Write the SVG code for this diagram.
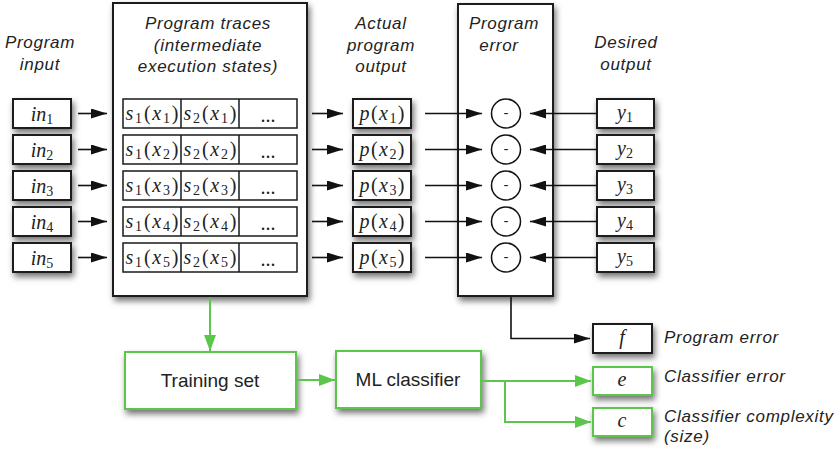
<svg xmlns="http://www.w3.org/2000/svg" width="836" height="454" viewBox="0 0 836 454">
<style>
.lbl{font-family:"Liberation Sans",Arial,sans-serif;font-style:italic;font-size:17px;letter-spacing:0.7px;fill:#222}
.big{font-family:"Liberation Sans",Arial,sans-serif;font-size:19px;fill:#222}
.m{font-family:"Liberation Serif","Times New Roman",serif;font-size:20px;fill:#222;text-anchor:middle}
.v{font-style:italic}
.box{fill:#fff;stroke:#1a1a1a;stroke-width:2}
.cell{fill:#fff;stroke:#1a1a1a;stroke-width:1.5}
.gbox{fill:#fff;stroke:#5cc64c;stroke-width:2}
.ln{fill:none;stroke:#111;stroke-width:1.6}
.gln{fill:none;stroke:#5cc64c;stroke-width:2}
.c{text-anchor:middle}
</style>
<defs>
<filter id="sh" x="-30%" y="-30%" width="170%" height="180%">
<feDropShadow dx="2" dy="4" stdDeviation="3" flood-color="#000" flood-opacity="0.55"/>
</filter>
<marker id="ah" viewBox="0 0 16 10" refX="16" refY="5" markerWidth="16" markerHeight="10" markerUnits="userSpaceOnUse" orient="auto">
<path d="M0,0 L16,5 L0,10 z" fill="#111"/>
</marker>
<marker id="gah" viewBox="0 0 16 12" refX="16" refY="6" markerWidth="16" markerHeight="12" markerUnits="userSpaceOnUse" orient="auto">
<path d="M0,0 L16,6 L0,12 z" fill="#5cc64c"/>
</marker>
</defs>

<g id="inputs">
<rect class="box" filter="url(#sh)" x="13" y="99" width="58" height="29"/>
<rect class="box" filter="url(#sh)" x="13" y="135" width="58" height="29"/>
<rect class="box" filter="url(#sh)" x="13" y="171" width="58" height="29"/>
<rect class="box" filter="url(#sh)" x="13" y="207" width="58" height="29"/>
<rect class="box" filter="url(#sh)" x="13" y="243" width="58" height="29"/>
<text class="m" x="42" y="120.5"><tspan class="v">in</tspan><tspan font-size="14" dy="3">1</tspan></text>
<text class="m" x="42" y="156.5"><tspan class="v">in</tspan><tspan font-size="14" dy="3">2</tspan></text>
<text class="m" x="42" y="192.5"><tspan class="v">in</tspan><tspan font-size="14" dy="3">3</tspan></text>
<text class="m" x="42" y="228.5"><tspan class="v">in</tspan><tspan font-size="14" dy="3">4</tspan></text>
<text class="m" x="42" y="264.5"><tspan class="v">in</tspan><tspan font-size="14" dy="3">5</tspan></text>
</g>

<g id="traces">
<rect class="box" filter="url(#sh)" x="113" y="3" width="194" height="293"/>
<g id="trace-rows">
<rect class="cell" x="123" y="99" width="174" height="29"/>
<rect class="cell" x="123" y="135" width="174" height="29"/>
<rect class="cell" x="123" y="171" width="174" height="29"/>
<rect class="cell" x="123" y="207" width="174" height="29"/>
<rect class="cell" x="123" y="243" width="174" height="29"/>
<path class="cell" d="M181,99 V128 M239,99 V128 M181,135 V164 M239,135 V164 M181,171 V200 M239,171 V200 M181,207 V236 M239,207 V236 M181,243 V272 M239,243 V272"/>
</g>
<text class="m" x="152" y="120" textLength="53"><tspan class="v">s</tspan><tspan font-size="14" dy="3">1</tspan><tspan dy="-3">(</tspan><tspan class="v">x</tspan><tspan font-size="14" dy="3">1</tspan><tspan dy="-3">)</tspan></text>
<text class="m" x="210" y="120" textLength="53"><tspan class="v">s</tspan><tspan font-size="14" dy="3">2</tspan><tspan dy="-3">(</tspan><tspan class="v">x</tspan><tspan font-size="14" dy="3">1</tspan><tspan dy="-3">)</tspan></text>
<text class="m" x="152" y="156" textLength="53"><tspan class="v">s</tspan><tspan font-size="14" dy="3">1</tspan><tspan dy="-3">(</tspan><tspan class="v">x</tspan><tspan font-size="14" dy="3">2</tspan><tspan dy="-3">)</tspan></text>
<text class="m" x="210" y="156" textLength="53"><tspan class="v">s</tspan><tspan font-size="14" dy="3">2</tspan><tspan dy="-3">(</tspan><tspan class="v">x</tspan><tspan font-size="14" dy="3">2</tspan><tspan dy="-3">)</tspan></text>
<text class="m" x="152" y="192" textLength="53"><tspan class="v">s</tspan><tspan font-size="14" dy="3">1</tspan><tspan dy="-3">(</tspan><tspan class="v">x</tspan><tspan font-size="14" dy="3">3</tspan><tspan dy="-3">)</tspan></text>
<text class="m" x="210" y="192" textLength="53"><tspan class="v">s</tspan><tspan font-size="14" dy="3">2</tspan><tspan dy="-3">(</tspan><tspan class="v">x</tspan><tspan font-size="14" dy="3">3</tspan><tspan dy="-3">)</tspan></text>
<text class="m" x="152" y="228" textLength="53"><tspan class="v">s</tspan><tspan font-size="14" dy="3">1</tspan><tspan dy="-3">(</tspan><tspan class="v">x</tspan><tspan font-size="14" dy="3">4</tspan><tspan dy="-3">)</tspan></text>
<text class="m" x="210" y="228" textLength="53"><tspan class="v">s</tspan><tspan font-size="14" dy="3">2</tspan><tspan dy="-3">(</tspan><tspan class="v">x</tspan><tspan font-size="14" dy="3">4</tspan><tspan dy="-3">)</tspan></text>
<text class="m" x="152" y="264" textLength="53"><tspan class="v">s</tspan><tspan font-size="14" dy="3">1</tspan><tspan dy="-3">(</tspan><tspan class="v">x</tspan><tspan font-size="14" dy="3">5</tspan><tspan dy="-3">)</tspan></text>
<text class="m" x="210" y="264" textLength="53"><tspan class="v">s</tspan><tspan font-size="14" dy="3">2</tspan><tspan dy="-3">(</tspan><tspan class="v">x</tspan><tspan font-size="14" dy="3">5</tspan><tspan dy="-3">)</tspan></text>
<text class="m" x="268" y="122">...</text>
<text class="m" x="268" y="158">...</text>
<text class="m" x="268" y="194">...</text>
<text class="m" x="268" y="230">...</text>
<text class="m" x="268" y="266">...</text>
</g>

<g id="outputs">
<rect class="box" filter="url(#sh)" x="353" y="99" width="58" height="29"/>
<rect class="box" filter="url(#sh)" x="353" y="135" width="58" height="29"/>
<rect class="box" filter="url(#sh)" x="353" y="171" width="58" height="29"/>
<rect class="box" filter="url(#sh)" x="353" y="207" width="58" height="29"/>
<rect class="box" filter="url(#sh)" x="353" y="243" width="58" height="29"/>
<text class="m" x="382" y="120" textLength="45"><tspan class="v">p</tspan>(<tspan class="v">x</tspan><tspan font-size="14" dy="3">1</tspan><tspan dy="-3">)</tspan></text>
<text class="m" x="382" y="156" textLength="45"><tspan class="v">p</tspan>(<tspan class="v">x</tspan><tspan font-size="14" dy="3">2</tspan><tspan dy="-3">)</tspan></text>
<text class="m" x="382" y="192" textLength="45"><tspan class="v">p</tspan>(<tspan class="v">x</tspan><tspan font-size="14" dy="3">3</tspan><tspan dy="-3">)</tspan></text>
<text class="m" x="382" y="228" textLength="45"><tspan class="v">p</tspan>(<tspan class="v">x</tspan><tspan font-size="14" dy="3">4</tspan><tspan dy="-3">)</tspan></text>
<text class="m" x="382" y="264" textLength="45"><tspan class="v">p</tspan>(<tspan class="v">x</tspan><tspan font-size="14" dy="3">5</tspan><tspan dy="-3">)</tspan></text>
</g>

<g id="program-error">
<rect class="box" filter="url(#sh)" x="458" y="4" width="95" height="292"/>
<g fill="#fff" stroke="#111" stroke-width="1.5">
<circle cx="506" cy="113.5" r="14.5"/>
<circle cx="506" cy="149.5" r="14.5"/>
<circle cx="506" cy="185.5" r="14.5"/>
<circle cx="506" cy="221.5" r="14.5"/>
<circle cx="506" cy="257.5" r="14.5"/>
</g>
<g font-family="Liberation Sans,Arial,sans-serif" font-size="15" fill="#222" text-anchor="middle">
<text x="506" y="118">-</text>
<text x="506" y="154">-</text>
<text x="506" y="190">-</text>
<text x="506" y="226">-</text>
<text x="506" y="262">-</text>
</g>
</g>

<g id="desired">
<rect class="box" filter="url(#sh)" x="597" y="99" width="57" height="29"/>
<rect class="box" filter="url(#sh)" x="597" y="135" width="57" height="29"/>
<rect class="box" filter="url(#sh)" x="597" y="171" width="57" height="29"/>
<rect class="box" filter="url(#sh)" x="597" y="207" width="57" height="29"/>
<rect class="box" filter="url(#sh)" x="597" y="243" width="57" height="29"/>
<text class="m" x="625" y="119"><tspan class="v">y</tspan><tspan font-size="14" dy="3">1</tspan></text>
<text class="m" x="625" y="155"><tspan class="v">y</tspan><tspan font-size="14" dy="3">2</tspan></text>
<text class="m" x="625" y="191"><tspan class="v">y</tspan><tspan font-size="14" dy="3">3</tspan></text>
<text class="m" x="625" y="227"><tspan class="v">y</tspan><tspan font-size="14" dy="3">4</tspan></text>
<text class="m" x="625" y="263"><tspan class="v">y</tspan><tspan font-size="14" dy="3">5</tspan></text>
</g>

<g id="headers">
<text class="lbl c" x="40" y="48">Program</text>
<text class="lbl c" x="40" y="70">input</text>
<text class="lbl c" x="208" y="29">Program traces</text>
<text class="lbl c" x="208" y="50.5">(intermediate</text>
<text class="lbl c" x="208" y="72">execution states)</text>
<text class="lbl c" x="381" y="29">Actual</text>
<text class="lbl c" x="381" y="50.5">program</text>
<text class="lbl c" x="381" y="72">output</text>
<text class="lbl c" x="504" y="29">Program</text>
<text class="lbl c" x="499" y="50.5">error</text>
<text class="lbl c" x="626" y="48">Desired</text>
<text class="lbl c" x="626" y="69.5">output</text>
</g>

<g id="training-set">
<rect class="gbox" filter="url(#sh)" x="125" y="352" width="171" height="57"/>
<text class="big c" x="210" y="387">Training set</text>
</g>
<g id="ml-classifier">
<rect class="gbox" filter="url(#sh)" x="336" y="351" width="145" height="57"/>
<text class="big c" x="408" y="386">ML classifier</text>
</g>

<g id="f-node">
<rect class="box" filter="url(#sh)" x="593" y="324" width="59" height="29"/>
<text class="m v" x="622" y="344">f</text>
<text class="lbl" x="664" y="343">Program error</text>
</g>
<g id="e-node">
<rect class="gbox" filter="url(#sh)" x="593" y="367" width="59" height="28"/>
<text class="m v" x="622" y="386">e</text>
<text class="lbl" x="664" y="382">Classifier error</text>
</g>
<g id="c-node">
<rect class="gbox" filter="url(#sh)" x="593" y="408" width="59" height="28"/>
<text class="m v" x="622" y="427">c</text>
<text class="lbl" x="664" y="421.5">Classifier complexity</text>
<text class="lbl" x="664" y="442">(size)</text>
</g>

<g id="connectors">
<line class="ln" x1="78" y1="113.5" x2="107" y2="113.5" marker-end="url(#ah)"/>
<line class="ln" x1="78" y1="149.5" x2="107" y2="149.5" marker-end="url(#ah)"/>
<line class="ln" x1="78" y1="185.5" x2="107" y2="185.5" marker-end="url(#ah)"/>
<line class="ln" x1="78" y1="221.5" x2="107" y2="221.5" marker-end="url(#ah)"/>
<line class="ln" x1="78" y1="257.5" x2="107" y2="257.5" marker-end="url(#ah)"/>
<line class="ln" x1="312" y1="113.5" x2="343" y2="113.5" marker-end="url(#ah)"/>
<line class="ln" x1="312" y1="149.5" x2="343" y2="149.5" marker-end="url(#ah)"/>
<line class="ln" x1="312" y1="185.5" x2="343" y2="185.5" marker-end="url(#ah)"/>
<line class="ln" x1="312" y1="221.5" x2="343" y2="221.5" marker-end="url(#ah)"/>
<line class="ln" x1="312" y1="257.5" x2="343" y2="257.5" marker-end="url(#ah)"/>
<line class="ln" x1="425" y1="113.5" x2="482" y2="113.5" marker-end="url(#ah)"/>
<line class="ln" x1="425" y1="149.5" x2="482" y2="149.5" marker-end="url(#ah)"/>
<line class="ln" x1="425" y1="185.5" x2="482" y2="185.5" marker-end="url(#ah)"/>
<line class="ln" x1="425" y1="221.5" x2="482" y2="221.5" marker-end="url(#ah)"/>
<line class="ln" x1="425" y1="257.5" x2="482" y2="257.5" marker-end="url(#ah)"/>
<line class="ln" x1="597" y1="113.5" x2="530" y2="113.5" marker-end="url(#ah)"/>
<line class="ln" x1="597" y1="149.5" x2="530" y2="149.5" marker-end="url(#ah)"/>
<line class="ln" x1="597" y1="185.5" x2="530" y2="185.5" marker-end="url(#ah)"/>
<line class="ln" x1="597" y1="221.5" x2="530" y2="221.5" marker-end="url(#ah)"/>
<line class="ln" x1="597" y1="257.5" x2="530" y2="257.5" marker-end="url(#ah)"/>
<polyline class="ln" points="511,297 511,338.5 590,338.5" marker-end="url(#ah)"/>
<line class="gln" x1="210" y1="297" x2="210" y2="351" marker-end="url(#gah)"/>
<line class="gln" x1="296" y1="380" x2="335" y2="380" marker-end="url(#gah)"/>
<line class="gln" x1="481" y1="381" x2="591" y2="381" marker-end="url(#gah)"/>
<polyline class="gln" points="505,381 505,422 591,422" marker-end="url(#gah)"/>
</g>
</svg>
